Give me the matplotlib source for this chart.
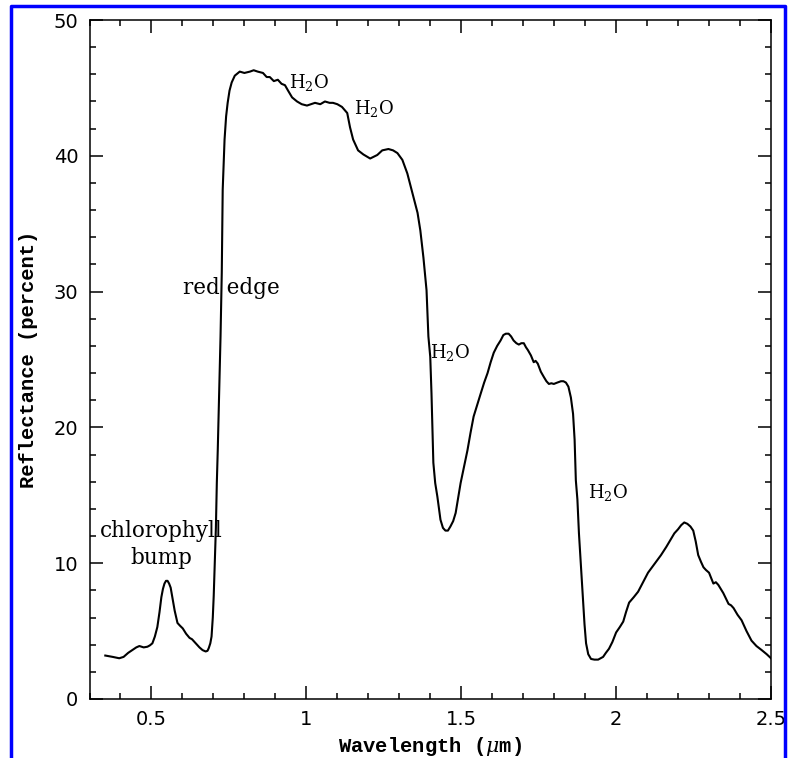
import matplotlib
matplotlib.use("Agg")
from matplotlib import pyplot as plt
from matplotlib.lines import Line2D
from matplotlib.ticker import MultipleLocator, FormatStrFormatter

# vegetation reflectance spectrum
wavelength = [0.351, 0.375, 0.396, 0.410, 0.425, 0.438, 0.451, 0.461, 0.475, 0.487, 0.495, 0.503,
              0.511, 0.519, 0.526, 0.532, 0.537, 0.542, 0.547, 0.552, 0.557, 0.562, 0.568, 0.575,
              0.584, 0.592, 0.601, 0.612, 0.623, 0.631, 0.639, 0.647, 0.655, 0.665, 0.675, 0.681,
              0.685, 0.690, 0.694, 0.698, 0.701, 0.704, 0.708, 0.711, 0.714, 0.718, 0.723, 0.727,
              0.730, 0.736, 0.741, 0.746, 0.752, 0.759, 0.769, 0.785, 0.800, 0.818, 0.830, 0.843,
              0.860, 0.872, 0.882, 0.895, 0.908, 0.920, 0.931, 0.941, 0.954, 0.970, 0.985, 1.002,
              1.015, 1.028, 1.045, 1.060, 1.075, 1.086, 1.100, 1.115, 1.132, 1.141, 1.151, 1.167,
              1.184, 1.206, 1.229, 1.245, 1.265, 1.280, 1.294, 1.310, 1.326, 1.342, 1.359, 1.368,
              1.378, 1.388, 1.394, 1.400, 1.404, 1.407, 1.410, 1.416, 1.423, 1.433, 1.441, 1.449,
              1.457, 1.465, 1.474, 1.482, 1.490, 1.498, 1.509, 1.520, 1.530, 1.540, 1.552, 1.563,
              1.574, 1.585, 1.595, 1.605, 1.616, 1.627, 1.636, 1.644, 1.653, 1.661, 1.669, 1.678,
              1.686, 1.694, 1.702, 1.709, 1.715, 1.725, 1.734, 1.740, 1.747, 1.757, 1.767, 1.775,
              1.783, 1.791, 1.799, 1.810, 1.822, 1.830, 1.838, 1.846, 1.854, 1.861, 1.866, 1.870,
              1.875, 1.880, 1.887, 1.893, 1.898, 1.903, 1.910, 1.919, 1.930, 1.942, 1.950, 1.958,
              1.967, 1.977, 1.988, 2.000, 2.012, 2.023, 2.032, 2.042, 2.057, 2.071, 2.087, 2.103,
              2.116, 2.129, 2.145, 2.162, 2.175, 2.188, 2.200, 2.210, 2.220, 2.230, 2.240, 2.249,
              2.257, 2.265, 2.274, 2.282, 2.290, 2.300, 2.314, 2.322, 2.330, 2.346, 2.363, 2.371,
              2.379, 2.392, 2.405, 2.421, 2.437, 2.453, 2.470, 2.486, 2.500]
reflectance = [3.2, 3.1, 3.0, 3.1, 3.4, 3.6, 3.8, 3.9, 3.8, 3.85, 3.95, 4.1,
               4.6, 5.3, 6.4, 7.5, 8.1, 8.5, 8.7, 8.7, 8.5, 8.2, 7.4, 6.5,
               5.6, 5.4, 5.2, 4.8, 4.5, 4.4, 4.2, 4.0, 3.8, 3.6, 3.5, 3.55,
               3.75, 4.1, 4.6, 6.0, 7.6, 9.7, 12.6, 15.9, 18.3, 22.0, 26.7, 31.4,
               37.5, 41.2, 42.9, 43.9, 44.8, 45.4, 45.9, 46.2, 46.1, 46.2, 46.3, 46.2,
               46.1, 45.8, 45.8, 45.5, 45.6, 45.3, 45.2, 44.8, 44.3, 44.0, 43.8, 43.7,
               43.8, 43.9, 43.8, 44.0, 43.9, 43.9, 43.8, 43.6, 43.15, 42.1, 41.2, 40.4,
               40.1, 39.8, 40.06, 40.4, 40.5, 40.4, 40.2, 39.7, 38.7, 37.3, 35.8, 34.5,
               32.5, 30.1, 26.7, 25.2, 22.5, 19.8, 17.4, 15.9, 14.9, 13.2, 12.6, 12.4,
               12.4, 12.7, 13.1, 13.7, 14.8, 15.9, 17.1, 18.3, 19.6, 20.8, 21.7, 22.5,
               23.3, 24.0, 24.8, 25.5, 26.0, 26.4, 26.8, 26.9, 26.9, 26.7, 26.4, 26.2,
               26.1, 26.2, 26.2, 25.9, 25.7, 25.3, 24.8, 24.9, 24.7, 24.1, 23.7, 23.4,
               23.2, 23.25, 23.2, 23.3, 23.4, 23.4, 23.3, 23.0, 22.2, 21.0, 19.1, 16.1,
               14.7, 12.2, 9.6, 7.3, 5.5, 4.1, 3.3, 2.95, 2.9, 2.9, 3.0, 3.1,
               3.4, 3.7, 4.2, 4.9, 5.3, 5.7, 6.4, 7.1, 7.5, 7.9, 8.6, 9.3,
               9.7, 10.1, 10.6, 11.2, 11.7, 12.2, 12.5, 12.8, 13.0, 12.9, 12.7, 12.4,
               11.6, 10.6, 10.1, 9.7, 9.5, 9.3, 8.5, 8.6, 8.4, 7.8, 7.0, 6.9,
               6.7, 6.2, 5.8, 5.0, 4.3, 3.9, 3.6, 3.3, 3.0]

labels = ["chlorophyll\nbump", "red edge", "H$_2$O", "H$_2$O", "H$_2$O", "H$_2$O"]
label_x = [0.531, 0.758, 0.944, 1.154, 1.400, 1.909]
label_y = [11.4, 30.3, 45.4, 43.5, 25.5, 15.2]
label_ha = ["center", "center", "left", "left", "left", "left"]
label_size = [15.5, 15.5, 13, 13, 13, 13]

plt.rcParams['mathtext.fontset'] = 'dejavuserif'

fig = plt.figure(figsize=(7.9, 7.58), dpi=100)
ax = fig.add_axes([89.5 / 790, 1 - 699 / 758, (771 - 89.5) / 790, (699 - 20) / 758])

ax.plot(wavelength, reflectance, color='black', linewidth=1.5, zorder=3)

for t, x, y, ha, fs in zip(labels, label_x, label_y, label_ha, label_size):
    ax.text(x, y, t, ha=ha, va='center', fontsize=fs, family='DejaVu Serif',
            linespacing=1.3, zorder=2)

ax.set_xlim(0.3, 2.5)
ax.set_ylim(0, 50)
ax.xaxis.set_major_locator(MultipleLocator(0.5))
ax.xaxis.set_minor_locator(MultipleLocator(0.1))
ax.yaxis.set_major_locator(MultipleLocator(10))
ax.yaxis.set_minor_locator(MultipleLocator(2))
ax.xaxis.set_major_formatter(FormatStrFormatter('%g'))
ax.tick_params(which='both', direction='in', top=True, right=True, width=1.1)
ax.tick_params(which='major', length=9.5, labelsize=14, pad=8)
ax.tick_params(which='minor', length=4)
for lbl in ax.get_xticklabels() + ax.get_yticklabels():
    lbl.set_family('DejaVu Sans')
for s in ax.spines.values():
    s.set_linewidth(1.1)

ax.set_xlabel(r'Wavelength ($\mu$m)', fontsize=14.8, family='Liberation Mono',
              fontweight='bold', labelpad=4.5)
ax.set_ylabel('Reflectance (percent)', fontsize=14.8, family='Liberation Mono',
              fontweight='bold', labelpad=11)

# blue frame around the figure
fig.add_artist(Line2D([11 / 790, 11 / 790, 785 / 790, 785 / 790], [-0.01, 1 - 6 / 758, 1 - 6 / 758, -0.01],
                      transform=fig.transFigure, color='#0000ff', linewidth=2.5))

plt.savefig('out.png', dpi=100)
